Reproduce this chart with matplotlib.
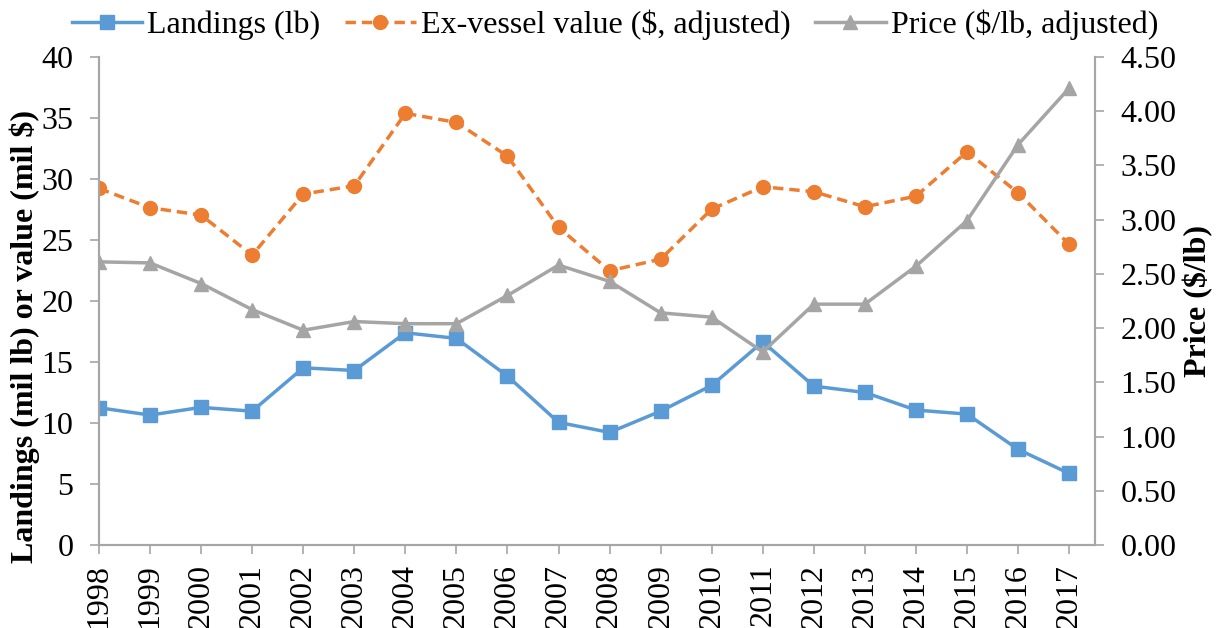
import numpy as np
import matplotlib.pyplot as plt
from matplotlib.ticker import FormatStrFormatter

plt.rcParams['font.family'] = ['Liberation Serif', 'DejaVu Serif']

years = [str(y) for y in range(1998, 2018)]
landings = [11.25, 10.65, 11.28, 10.97, 14.52, 14.30, 17.39, 16.93, 13.84, 10.05,
            9.23, 10.97, 13.08, 16.65, 13.02, 12.50, 11.06, 10.73, 7.84, 5.87]
exvessel = [29.21, 27.63, 27.03, 23.75, 28.75, 29.43, 35.36, 34.62, 31.86, 26.02,
            22.47, 23.42, 27.52, 29.35, 28.94, 27.71, 28.58, 32.21, 28.85, 24.63]
price = [2.61, 2.60, 2.41, 2.17, 1.98, 2.06, 2.04, 2.04, 2.30, 2.58,
         2.43, 2.14, 2.10, 1.78, 2.22, 2.22, 2.57, 2.99, 3.69, 4.21]

blue = '#5B9BD5'
orange = '#ED7D31'
gray = '#A5A5A5'
spine_c = '#A6A6A6'
fs = 23

fig = plt.figure(figsize=(12.19, 6.28), dpi=100)
ax = fig.add_axes([0.0812, 0.132, 0.8168, 0.7777])
ax2 = ax.twinx()

x = np.arange(len(years))
l1, = ax.plot(x, landings, color=blue, lw=2.5, marker='s', ms=9.5,
              label='Landings (lb)', zorder=3)
l2, = ax.plot(x, exvessel, color=orange, lw=2.5, marker='o', ms=10,
              ls=(0, (3.0, 1.7)), label='Ex-vessel value ($, adjusted)', zorder=3)
l3, = ax2.plot(x, price, color=gray, lw=2.5, marker='^', ms=10.5,
               label='Price ($/lb, adjusted)', zorder=3)

ax.set_xlim(0, 19.5)
ax.set_ylim(0, 40)
ax.set_yticks(np.arange(0, 41, 5))
ax2.set_ylim(0, 4.5)
ax2.set_yticks(np.arange(0, 4.51, 0.5))
ax2.yaxis.set_major_formatter(FormatStrFormatter('%.2f'))

ax.set_xticks(x)
ax.set_xticklabels(years, rotation=90, fontsize=fs)
ax.tick_params(axis='y', labelsize=fs, direction='out', length=6.5, width=1.2,
               color=spine_c, pad=12)
ax.tick_params(axis='x', direction='out', length=6.5, width=1.2, color=spine_c, pad=7)
ax2.tick_params(axis='y', labelsize=fs, direction='out', length=6.5, width=1.2,
                color=spine_c, pad=12)

for a in (ax, ax2):
    a.spines['top'].set_visible(False)
    for s in ('left', 'right', 'bottom'):
        a.spines[s].set_color(spine_c)
        a.spines[s].set_linewidth(1.5)

ax.set_ylabel('Landings (mil lb) or value (mil $)', fontsize=fs, fontweight='bold', labelpad=1)
ax.yaxis.label.set_y(0.427)
ax2.set_ylabel('Price ($/lb)', fontsize=fs, fontweight='bold', labelpad=5)

# legend across the top, outside the axes
fig.legend(handles=[l1, l2, l3], loc='upper center', bbox_to_anchor=(0.5045, 0.99),
           ncol=3, frameon=False, fontsize=fs, handlelength=2.2,
           columnspacing=0.78, handletextpad=0.16, borderpad=0.1, borderaxespad=0)

fig.savefig('out.png', dpi=100)
